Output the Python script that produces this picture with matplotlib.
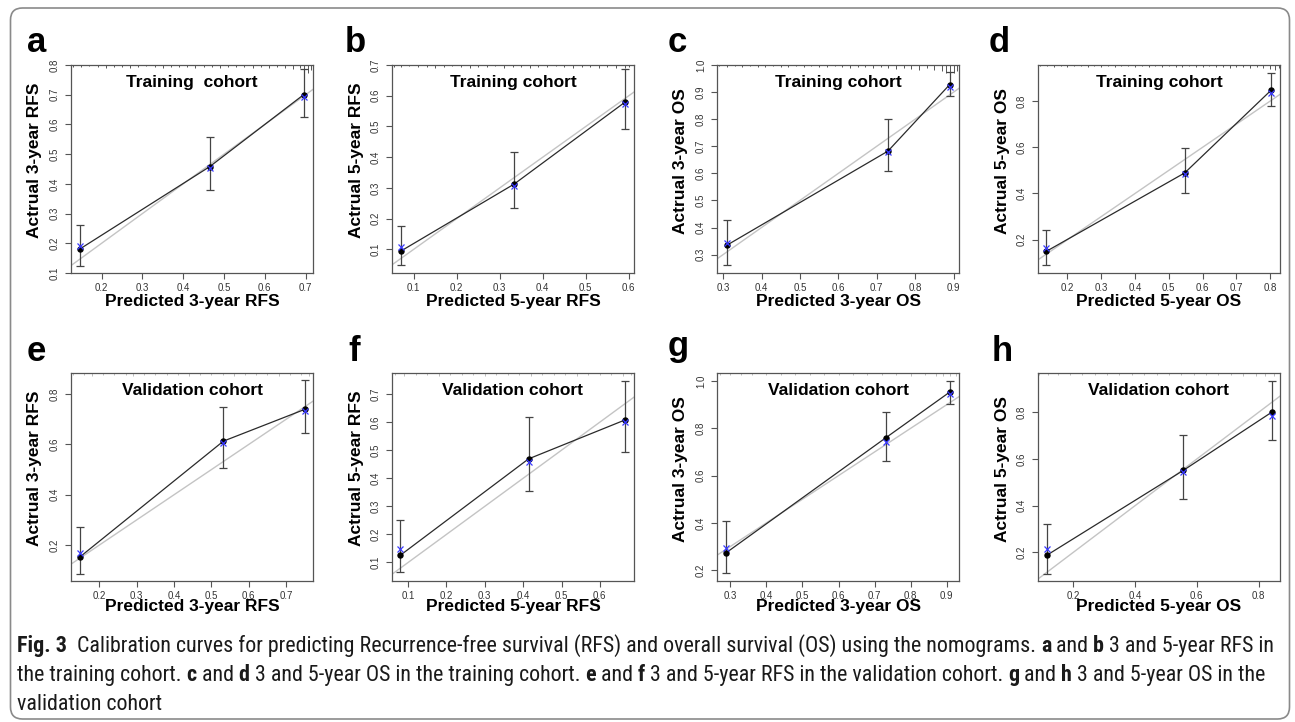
import matplotlib
matplotlib.use("Agg")
import matplotlib.pyplot as plt
from matplotlib.patches import FancyBboxPatch
from matplotlib.transforms import IdentityTransform, blended_transform_factory
from matplotlib import font_manager as fm

W, H = 1295, 722

# ---------------- data ----------------
letters = ["a", "b", "c", "d", "e", "f", "g", "h"]
titles = ["Training  cohort", "Training cohort", "Training cohort", "Training cohort",
          "Validation cohort", "Validation cohort", "Validation cohort", "Validation cohort"]
xlabels = ["Predicted 3-year RFS", "Predicted 5-year RFS", "Predicted 3-year OS", "Predicted 5-year OS"] * 2
ylabels = ["Actrual 3-year RFS", "Actrual 5-year RFS", "Actrual 3-year OS", "Actrual 5-year OS"] * 2

pred_a = [0.147, 0.465, 0.695]
obs_a = [0.181, 0.458, 0.700]
corr_a = [0.191, 0.455, 0.692]
lo_a = [0.124, 0.381, 0.624]
hi_a = [0.263, 0.557, 0.785]

pred_b = [0.071, 0.333, 0.591]
obs_b = [0.095, 0.312, 0.579]
corr_b = [0.106, 0.306, 0.574]
lo_b = [0.048, 0.235, 0.491]
hi_b = [0.177, 0.416, 0.686]

pred_c = [0.309, 0.729, 0.890]
obs_c = [0.334, 0.682, 0.928]
corr_c = [0.343, 0.677, 0.918]
lo_c = [0.261, 0.608, 0.885]
hi_c = [0.427, 0.800, 0.975]

pred_d = [0.138, 0.547, 0.802]
obs_d = [0.150, 0.489, 0.846]
corr_d = [0.164, 0.484, 0.834]
lo_d = [0.091, 0.400, 0.777]
hi_d = [0.244, 0.599, 0.921]

pred_e = [0.149, 0.532, 0.751]
obs_e = [0.154, 0.613, 0.740]
corr_e = [0.170, 0.607, 0.732]
lo_e = [0.086, 0.505, 0.645]
hi_e = [0.272, 0.747, 0.856]

pred_f = [0.080, 0.414, 0.666]
obs_f = [0.126, 0.469, 0.608]
corr_f = [0.149, 0.457, 0.599]
lo_f = [0.065, 0.353, 0.494]
hi_f = [0.252, 0.620, 0.748]

pred_g = [0.288, 0.732, 0.909]
obs_g = [0.273, 0.761, 0.954]
corr_g = [0.294, 0.744, 0.945]
lo_g = [0.186, 0.663, 0.904]
hi_g = [0.407, 0.870, 1.000]

pred_h = [0.116, 0.556, 0.842]
obs_h = [0.189, 0.551, 0.800]
corr_h = [0.213, 0.544, 0.786]
lo_h = [0.110, 0.430, 0.683]
hi_h = [0.324, 0.703, 0.935]

# axis ranges and ticks
xlim_list = [(0.125, 0.718), (0.0496, 0.612), (0.284, 0.914), (0.113, 0.829),
             (0.124, 0.772), (0.058, 0.689), (0.263, 0.934), (0.0865, 0.869)]
ylim_list = [(0.1, 0.8), (0.023, 0.7), (0.232, 1.0), (0.056, 0.956),
             (0.057, 0.884), (0.034, 0.775), (0.154, 1.034), (0.078, 0.968)]
xticks_list = [[0.2, 0.3, 0.4, 0.5, 0.6, 0.7], [0.1, 0.2, 0.3, 0.4, 0.5, 0.6],
               [0.3, 0.4, 0.5, 0.6, 0.7, 0.8, 0.9], [0.2, 0.3, 0.4, 0.5, 0.6, 0.7, 0.8],
               [0.2, 0.3, 0.4, 0.5, 0.6, 0.7], [0.1, 0.2, 0.3, 0.4, 0.5, 0.6],
               [0.3, 0.4, 0.5, 0.6, 0.7, 0.8, 0.9], [0.2, 0.4, 0.6, 0.8]]
yticks_list = [[0.1, 0.2, 0.3, 0.4, 0.5, 0.6, 0.7, 0.8], [0.1, 0.2, 0.3, 0.4, 0.5, 0.6, 0.7],
               [0.3, 0.4, 0.5, 0.6, 0.7, 0.8, 0.9, 1.0], [0.2, 0.4, 0.6, 0.8],
               [0.2, 0.4, 0.6, 0.8], [0.1, 0.2, 0.3, 0.4, 0.5, 0.6, 0.7],
               [0.2, 0.4, 0.6, 0.8, 1.0], [0.2, 0.4, 0.6, 0.8]]

# distribution of predicted values (rug at the top of each panel), heights in px
rug_x_a = [0.13, 0.15, 0.17, 0.19, 0.21, 0.23, 0.25, 0.27, 0.29, 0.31, 0.33, 0.35, 0.37, 0.39, 0.41, 0.43,
           0.45, 0.47, 0.49, 0.51, 0.53, 0.55, 0.57, 0.59, 0.61, 0.63, 0.65, 0.67, 0.685, 0.695, 0.705, 0.712]
rug_h_a = [2, 2, 1, 2, 3, 2, 2, 3, 2, 1, 2, 3, 2, 2, 2, 3, 2, 2, 3, 2, 2, 2, 3, 2, 3, 2, 3, 4, 3, 6, 8, 5]
rug_x_b = [0.055, 0.07, 0.09, 0.11, 0.13, 0.15, 0.17, 0.19, 0.21, 0.23, 0.25, 0.27, 0.29, 0.31, 0.33,
           0.35, 0.37, 0.39, 0.41, 0.43, 0.45, 0.47, 0.49, 0.51, 0.53, 0.55, 0.57, 0.59, 0.60]
rug_h_b = [2, 2, 1, 2, 2, 3, 2, 1, 2, 3, 2, 2, 1, 3, 2, 2, 3, 2, 2, 1, 2, 3, 2, 2, 3, 2, 3, 3, 2]
rug_x_c = [0.29, 0.31, 0.33, 0.35, 0.37, 0.39, 0.41, 0.43, 0.45, 0.47, 0.49, 0.51, 0.53, 0.55, 0.57, 0.59,
           0.61, 0.63, 0.65, 0.67, 0.69, 0.71, 0.73, 0.75, 0.77, 0.79, 0.81, 0.83, 0.85, 0.87, 0.88, 0.89,
           0.90, 0.91]
rug_h_c = [1, 2, 1, 2, 1, 2, 2, 1, 2, 2, 1, 2, 1, 2, 2, 1, 2, 3, 2, 2, 3, 2, 3, 4, 3, 4, 5, 3, 5, 6, 8, 7, 8, 6]
rug_x_d = [0.12, 0.14, 0.16, 0.18, 0.20, 0.22, 0.24, 0.26, 0.28, 0.30, 0.32, 0.34, 0.36, 0.38, 0.40, 0.42,
           0.44, 0.46, 0.48, 0.50, 0.52, 0.54, 0.56, 0.58, 0.60, 0.62, 0.64, 0.66, 0.68, 0.70, 0.72, 0.74,
           0.76, 0.78, 0.80, 0.815, 0.825]
rug_h_d = [1, 1, 2, 1, 2, 1, 1, 2, 1, 2, 1, 2, 1, 1, 2, 1, 2, 1, 2, 1, 2, 2, 1, 2, 2, 1, 2, 2, 3, 2, 2, 3, 2,
           3, 4, 5, 3]
rug_x_e = [0.13, 0.16, 0.18, 0.21, 0.24, 0.27, 0.29, 0.32, 0.35, 0.38, 0.41, 0.44, 0.47, 0.50, 0.53, 0.56,
           0.59, 0.62, 0.65, 0.68, 0.71, 0.74, 0.76]
rug_h_e = [2, 2, 3, 2, 2, 2, 3, 2, 2, 2, 2, 3, 2, 2, 2, 3, 2, 2, 2, 3, 2, 2, 3]
rug_x_f = [0.065, 0.09, 0.12, 0.15, 0.18, 0.21, 0.24, 0.27, 0.30, 0.33, 0.36, 0.39, 0.42, 0.45, 0.48, 0.51,
           0.54, 0.57, 0.60, 0.63, 0.66, 0.68]
rug_h_f = [2, 3, 2, 2, 3, 2, 2, 2, 3, 2, 2, 2, 3, 2, 2, 2, 3, 2, 2, 2, 3, 2]
rug_x_g = [0.27, 0.30, 0.33, 0.36, 0.40, 0.44, 0.48, 0.52, 0.56, 0.60, 0.64, 0.68, 0.72, 0.76, 0.80, 0.84,
           0.87, 0.89, 0.91, 0.925]
rug_h_g = [2, 2, 2, 2, 2, 2, 2, 2, 2, 2, 2, 2, 2, 2, 3, 2, 3, 3, 3, 3]
rug_x_h = [0.09, 0.12, 0.15, 0.19, 0.23, 0.27, 0.31, 0.35, 0.39, 0.43, 0.47, 0.51, 0.55, 0.59, 0.63, 0.67,
           0.71, 0.75, 0.79, 0.82, 0.85]
rug_h_h = [2, 2, 2, 2, 2, 2, 2, 2, 2, 2, 2, 2, 2, 2, 2, 2, 2, 3, 3, 3, 3]

caption_lines = [
    [("Fig. 3", True), ("  Calibration curves for predicting Recurrence-free survival (RFS) and overall survival (OS) using the nomograms. ", False),
     ("a", True), (" and ", False), ("b", True), (" 3 and 5-year RFS in", False)],
    [("the training cohort. ", False), ("c", True), (" and ", False), ("d", True),
     (" 3 and 5-year OS in the training cohort. ", False), ("e", True), (" and ", False), ("f", True),
     (" 3 and 5-year RFS in the validation cohort. ", False), ("g", True), (" and ", False), ("h", True),
     (" 3 and 5-year OS in the", False)],
    [("validation cohort", False)],
]

# ---------------- layout (pixels) ----------------
panels = [
    (pred_a, obs_a, corr_a, lo_a, hi_a, rug_x_a, rug_h_a),
    (pred_b, obs_b, corr_b, lo_b, hi_b, rug_x_b, rug_h_b),
    (pred_c, obs_c, corr_c, lo_c, hi_c, rug_x_c, rug_h_c),
    (pred_d, obs_d, corr_d, lo_d, hi_d, rug_x_d, rug_h_d),
    (pred_e, obs_e, corr_e, lo_e, hi_e, rug_x_e, rug_h_e),
    (pred_f, obs_f, corr_f, lo_f, hi_f, rug_x_f, rug_h_f),
    (pred_g, obs_g, corr_g, lo_g, hi_g, rug_x_g, rug_h_g),
    (pred_h, obs_h, corr_h, lo_h, hi_h, rug_x_h, rug_h_h),
]
col_left = [71, 392, 717, 1038]
row_top = [65, 373]
AW, AH = 242, 208
letter_pos = [(27, 52), (345, 52), (668, 52), (989, 52), (27, 361), (348, 361), (668, 356), (992, 361)]
xlabel_off = [28, 25]

sans = ["Liberation Sans", "DejaVu Sans"]
plt.rcParams["font.family"] = sans


def pick_font(cands):
    for c in cands:
        try:
            fm.findfont(fm.FontProperties(family=c), fallback_to_default=False)
            return c
        except Exception:
            continue
    return "DejaVu Sans"


cap_font = pick_font(["Liberation Sans Narrow", "Roboto Condensed", "Open Sans Condensed", "Open Sans"])

fig = plt.figure(figsize=(W / 100, H / 100), dpi=100)
fig.patch.set_facecolor("white")

axc = "#555555"
for i, (pred, obs, corr, lo, hi, rx, rh) in enumerate(panels):
    r, c = divmod(i, 4)
    l = col_left[c]
    t = row_top[r]
    ax = fig.add_axes([l / W, 1 - (t + AH) / H, AW / W, AH / H])
    ax.set_xlim(*xlim_list[i])
    ax.set_ylim(*ylim_list[i])
    for s in ax.spines.values():
        s.set_color(axc)
        s.set_linewidth(0.9)
    ax.set_xticks(xticks_list[i])
    ax.set_yticks(yticks_list[i])
    ax.set_xticklabels([f"{v:.1f}" for v in xticks_list[i]])
    ax.set_yticklabels([f"{v:.1f}" for v in yticks_list[i]])
    ax.tick_params(axis="both", direction="out", length=4, width=0.8, color=axc,
                   labelsize=7, labelcolor="#333333")
    ax.tick_params(axis="x", pad=3)
    ax.tick_params(axis="y", pad=4, labelrotation=90)
    for lab in ax.get_yticklabels():
        lab.set_verticalalignment("center")

    # ideal line
    ax.axline((0, 0), (1, 1), color="#c4c4c4", lw=1.0, zorder=1)
    # calibration curve
    ax.plot(pred, obs, color="#2a2a2a", lw=0.9, zorder=2)
    yerr = [[o - a for o, a in zip(obs, lo)], [b - o for o, b in zip(obs, hi)]]
    ax.errorbar(pred, obs, yerr=yerr, fmt="none", ecolor="#444444", elinewidth=0.9,
                capsize=3, capthick=0.9, zorder=3)
    ax.plot(pred, obs, "o", color="black", markersize=3.6, zorder=4)
    ax.plot(pred, corr, "x", color="#3a3aff", markersize=4, mew=0.9, zorder=5)

    # rug of predicted values at top
    tr = blended_transform_factory(ax.transData, ax.transAxes)
    rug_col = "#555555" if r == 0 else "#bdbdbd"
    ax.vlines(rx, [1 - h / AH for h in rh], 1, transform=tr, color=rug_col, lw=0.7, zorder=2)

    ax.text(0.5, 1 - 18 / AH, titles[i], transform=ax.transAxes, ha="center", va="center",
            fontsize=12.5, fontweight="bold", color="black")
    ax.text(0.5, -xlabel_off[r] / AH, xlabels[i], transform=ax.transAxes, ha="center", va="center",
            fontsize=12.5, fontweight="bold", color="black")
    ax.text(-36 / AW, 0.54, ylabels[i], transform=ax.transAxes, ha="center", va="center",
            rotation=90, fontsize=12.5, fontweight="bold", color="black")

    lx, ly = letter_pos[i]
    fig.text(lx / W, 1 - ly / H, letters[i], ha="left", va="baseline", fontsize=25,
             fontweight="bold", color="black")

# border
border = FancyBboxPatch((10.5, 3), 1279, 711, boxstyle="round,pad=0,rounding_size=12",
                        transform=IdentityTransform(), facecolor="none", edgecolor="#8a8a8a",
                        lw=1.2, zorder=0)
fig.add_artist(border)

# caption
fig.canvas.draw()
renderer = fig.canvas.get_renderer()


def seg_width(s, bold, size):
    w = "bold" if bold else "normal"
    t1 = fig.text(0, 0, "|" + s + "|", fontsize=size, fontweight=w, family=[cap_font, "DejaVu Sans"])
    t2 = fig.text(0, 0, "||", fontsize=size, fontweight=w, family=[cap_font, "DejaVu Sans"])
    wd = t1.get_window_extent(renderer).width - t2.get_window_extent(renderer).width
    t1.remove()
    t2.remove()
    return wd


base = 10.0
w1 = sum(seg_width(s, b, base) for s, b in caption_lines[0])
cap_size = base * 1255.0 / w1

cap_base_y = [652, 681, 710]
for line, by in zip(caption_lines, cap_base_y):
    x = 17.0
    for s, b in line:
        fig.text(x / W, 1 - by / H, s, fontsize=cap_size, fontweight="bold" if b else "normal",
                 family=[cap_font, "DejaVu Sans"], color="#1a1a1a", ha="left", va="baseline")
        x += seg_width(s, b, cap_size)

fig.savefig("out.png", dpi=100, facecolor="white")
